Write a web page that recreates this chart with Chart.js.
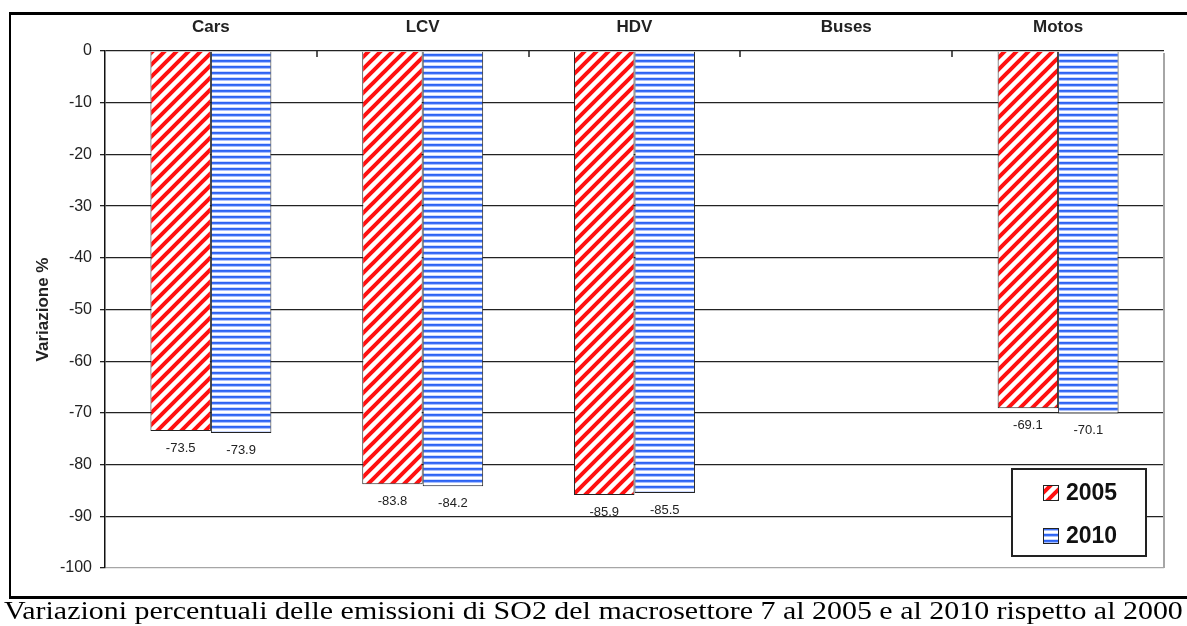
<!DOCTYPE html>
<html>
<head>
<meta charset="utf-8">
<script src="https://cdn.jsdelivr.net/npm/chart.js@4.4.0/dist/chart.umd.min.js"></script>
<style>
  body { margin: 0; background: #fff; width: 1187px; height: 626px; overflow: hidden; position: relative; }
  #chart { position: absolute; left: 0; top: 0; }
  .line { position: absolute; background: #000; }
  #caption { position: absolute; left: 4px; top: 597px; font-family: 'Liberation Serif', 'Times New Roman', serif; font-size: 26px; line-height: 28px; white-space: nowrap; transform-origin: left top; color: #000; }
</style>
</head>
<body>
<canvas id="chart" width="1187" height="600"></canvas>
<div class="line" style="left:9px; top:12px; width:1178px; height:3px"></div>
<div class="line" style="left:9px; top:12px; width:2px; height:586px"></div>
<div class="line" style="left:9px; top:596px; width:1178px; height:3px"></div>
<div id="caption">Variazioni percentuali delle emissioni di SO2 del macrosettore 7 al 2005 e al 2010 rispetto al 2000</div>
<script>
const categories = ['Cars', 'LCV', 'HDV', 'Buses', 'Motos'];
const seriesLabels = ['2005', '2010'];
const values2005 = [-73.5, -83.8, -85.9, null, -69.1];
const values2010 = [-73.9, -84.2, -85.5, null, -70.1];
const yMin = -100;
const yMax = 0;
const yStep = 10;

const FONT = '"Liberation Sans", Arial, sans-serif';

// red diagonal hatching
function diagonalPattern() {
  const c = document.createElement('canvas');
  c.width = 12; c.height = 12;
  const g = c.getContext('2d');
  g.fillStyle = '#fff';
  g.fillRect(0, 0, 12, 12);
  g.strokeStyle = '#ff1010';
  g.lineWidth = 4;
  g.beginPath();
  g.moveTo(-2, 14); g.lineTo(14, -2);
  g.moveTo(-2, 2); g.lineTo(2, -2);
  g.moveTo(10, 14); g.lineTo(14, 10);
  g.stroke();
  return g.createPattern(c, 'repeat');
}

// blue horizontal stripes
function stripePattern() {
  const c = document.createElement('canvas');
  c.width = 4; c.height = 6;
  const g = c.getContext('2d');
  const rows = ['#2d62f2', '#3b6ff5', '#a8bfff', '#ffffff', '#ffffff', '#cbd9ff'];
  rows.forEach((col, i) => {
    g.fillStyle = col;
    g.fillRect(0, i, 4, 1);
  });
  return g.createPattern(c, 'repeat');
}

const frameAndTicks = {
  id: 'frameAndTicks',
  afterDraw(chart) {
    const { ctx, chartArea } = chart;
    const x = chart.scales.x;
    ctx.save();
    // gray plot frame on the right
    ctx.strokeStyle = '#a6a6a6';
    ctx.lineWidth = 2;
    ctx.beginPath();
    ctx.moveTo(chartArea.right, chartArea.top + 2);
    ctx.lineTo(chartArea.right, chartArea.bottom);
    ctx.stroke();
    // small ticks between categories, pointing down from the zero line
    ctx.strokeStyle = '#222';
    ctx.lineWidth = 1.5;
    ctx.beginPath();
    for (let i = 1; i < categories.length; i++) {
      const px = Math.round((x.getPixelForValue(i - 1) + x.getPixelForValue(i)) / 2);
      ctx.moveTo(px, chartArea.top);
      ctx.lineTo(px, chartArea.top + 6);
    }
    ctx.stroke();
    ctx.restore();
  }
};

const valueLabels = {
  id: 'valueLabels',
  afterDatasetsDraw(chart) {
    const ctx = chart.ctx;
    ctx.save();
    ctx.font = '13px ' + FONT;
    ctx.fillStyle = '#222';
    ctx.textAlign = 'center';
    ctx.textBaseline = 'middle';
    chart.data.datasets.forEach((ds, i) => {
      chart.getDatasetMeta(i).data.forEach((el, j) => {
        const v = ds.data[j];
        if (v == null) return;
        ctx.fillText(v.toFixed(1), el.x, el.y + 17);
      });
    });
    ctx.restore();
  }
};

const boxLegend = {
  id: 'boxLegend',
  afterDraw(chart) {
    const ctx = chart.ctx;
    const left = 1012, top = 469, w = 134, h = 87;
    ctx.save();
    ctx.fillStyle = '#fff';
    ctx.fillRect(left, top, w, h);
    ctx.strokeStyle = '#222';
    ctx.lineWidth = 2;
    ctx.strokeRect(left, top, w, h);
    chart.data.datasets.forEach((ds, i) => {
      const cy = top + 24 + i * 43;
      ctx.fillStyle = ds.backgroundColor;
      ctx.fillRect(left + 31, cy - 8, 16, 16);
      ctx.lineWidth = 1;
      ctx.strokeStyle = '#222';
      ctx.strokeRect(left + 31.5, cy - 7.5, 15, 15);
      ctx.fillStyle = '#111';
      ctx.font = 'bold 23px ' + FONT;
      ctx.textBaseline = 'middle';
      ctx.textAlign = 'left';
      ctx.fillText(ds.label, left + 54, cy + 1);
    });
    ctx.restore();
  }
};

new Chart(document.getElementById('chart'), {
  type: 'bar',
  data: {
    labels: categories,
    datasets: [
      {
        label: seriesLabels[0],
        data: values2005,
        backgroundColor: diagonalPattern(),
        borderColor: '#222',
        borderWidth: 1
      },
      {
        label: seriesLabels[1],
        data: values2010,
        backgroundColor: stripePattern(),
        borderColor: '#222',
        borderWidth: 1
      }
    ]
  },
  options: {
    responsive: false,
    animation: false,
    devicePixelRatio: 1,
    categoryPercentage: 0.571,
    barPercentage: 1,
    layout: { padding: { left: 32, top: 15, right: 23, bottom: 32 } },
    plugins: {
      legend: { display: false },
      tooltip: { enabled: false }
    },
    scales: {
      x: {
        position: 'top',
        grid: { display: false },
        border: { display: false },
        ticks: {
          padding: 5,
          color: '#222',
          font: { family: FONT, size: 17, weight: 'bold' }
        },
        afterFit: s => { s.height = 36; }
      },
      y: {
        min: yMin,
        max: yMax,
        ticks: {
          stepSize: yStep,
          padding: 8,
          color: '#222',
          font: { family: FONT, size: 16 }
        },
        grid: {
          color: c => c.tick && c.tick.value === yMin ? '#a6a6a6' : '#222',
          tickColor: '#222',
          tickLength: 5,
          lineWidth: 1.3
        },
        border: { display: true, color: '#111', width: 1.5 },
        title: {
          display: true,
          text: 'Variazione %',
          color: '#222',
          padding: 1,
          font: { family: FONT, size: 17, weight: 'bold' }
        },
        afterFit: s => { s.width = 73; }
      }
    }
  },
  plugins: [frameAndTicks, valueLabels, boxLegend]
});

// stretch caption to the full row width like the original
const cap = document.getElementById('caption');
cap.style.transform = 'scaleX(' + (1179 / cap.scrollWidth) + ')';
</script>
</body>
</html>
